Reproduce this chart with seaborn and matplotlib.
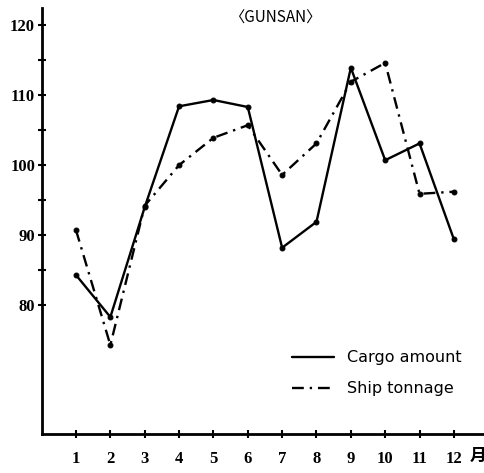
import matplotlib
matplotlib.use("Agg")
import matplotlib.pyplot as plt
import seaborn as sns
import pandas as pd

# monthly index values
months = list(range(1, 13))
cargo_amount = [84.3, 78.3, 94.0, 108.4, 109.3, 108.3, 88.2, 91.9, 113.9, 100.7, 103.1, 89.4]
ship_tonnage = [90.7, 74.3, 94.2, 100.0, 103.9, 105.7, 98.6, 103.1, 111.9, 114.6, 95.9, 96.2]
series_names = ["Cargo amount", "Ship tonnage"]
y_ticks = [80, 85, 90, 95, 100, 105, 110, 115, 120]
y_labels = ["80", "", "90", "", "100", "", "110", "", "120"]

df = pd.DataFrame({
    "month": months * 2,
    "value": cargo_amount + ship_tonnage,
    "series": [series_names[0]] * 12 + [series_names[1]] * 12,
})

sns.set_theme(style="white")
plt.rcParams["font.family"] = ["Liberation Serif", "Noto Sans CJK SC", "DejaVu Sans"]
plt.rcParams["text.color"] = "black"
plt.rcParams["xtick.color"] = "black"
plt.rcParams["ytick.color"] = "black"

fig = plt.figure(figsize=(4.85, 4.73), dpi=100)
ax = fig.add_axes([0.0866, 0.0825, 0.913, 0.9])

sns.lineplot(data=df, x="month", y="value", style="series",
             dashes={series_names[0]: "", series_names[1]: (5, 2.5, 1, 2.5)},
             markers={series_names[0]: "o", series_names[1]: "o"},
             markersize=3.5, color="black", linewidth=1.7, ax=ax,
             markeredgecolor="black", legend=True)

ax.set_xlim(0.01, 12.9)
ax.set_ylim(61.6, 122.4)
ax.set_xticks(months)
ax.set_xticklabels([str(m) for m in months], fontsize=12, fontweight="bold")
ax.set_yticks(y_ticks)
ax.set_yticklabels(y_labels, fontsize=12, fontweight="bold")
ax.tick_params(axis="both", direction="inout", length=6, width=1.5, color="black",
               left=True, bottom=True, pad=2)
ax.tick_params(axis="x", pad=9)
ax.set_xlabel("")
ax.set_ylabel("")

for side in ["top", "right"]:
    ax.spines[side].set_visible(False)
for side in ["left", "bottom"]:
    ax.spines[side].set_color("black")
    ax.spines[side].set_linewidth(2)

fig.text(478 / 485, 1 - 456 / 473, "月", fontsize=12, fontweight="bold",
         family=["Noto Sans CJK SC", "DejaVu Sans"], ha="center", va="center")
fig.text(275 / 485, 1 - 18 / 473, "〈GUNSAN〉", fontsize=11,
         family=["Noto Sans CJK SC", "DejaVu Sans"], ha="center", va="center")

handles, labels = ax.get_legend_handles_labels()
for h in handles:
    h.set_marker("")
leg = ax.legend(handles, labels, loc="upper left", frameon=False,
                bbox_to_anchor=(278 / 485, 1 - 336 / 473), bbox_transform=fig.transFigure,
                handlelength=2.6, labelspacing=1.0, handletextpad=0.8,
                prop={"family": "DejaVu Sans", "size": 11.5})
for t in leg.get_texts():
    t.set_color("black")

fig.savefig("out.png", dpi=100)
